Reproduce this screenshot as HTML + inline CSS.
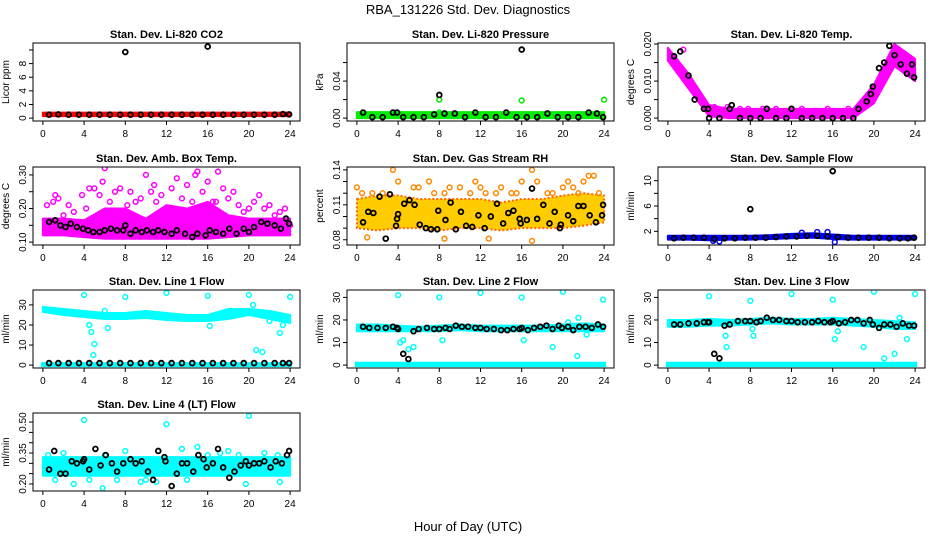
<!DOCTYPE html>
<html><head><meta charset="utf-8"><style>
body{margin:0;background:#fff;}
svg text{font-family:"Liberation Sans",sans-serif;}
</style></head><body>
<svg id="c" width="936" height="540" xmlns="http://www.w3.org/2000/svg">
<text x="468" y="14" text-anchor="middle" font-size="13">RBA_131226  Std. Dev. Diagnostics</text>
<text x="468" y="531" text-anchor="middle" font-size="13">Hour of Day (UTC)</text>
</svg>
<script>
const BH=[0,2,4,6,8,10,12,14,16,18,20,22,24];
const titles=["Stan. Dev. Li-820 CO2","Stan. Dev. Li-820 Pressure","Stan. Dev. Li-820 Temp.","Stan. Dev. Amb. Box Temp.","Stan. Dev. Gas Stream RH","Stan. Dev. Sample Flow","Stan. Dev. Line 1 Flow","Stan. Dev. Line 2 Flow","Stan. Dev. Line 3 Flow","Stan. Dev. Line 4 (LT) Flow"];
const ylabs=["Licor ppm","kPa","degrees C","degrees C","percent","ml/min","ml/min","ml/min","ml/min","ml/min"];
const yranges=[[0,10.6],[0,0.078],[0,0.0195],[0.10,0.315],[0.078,0.140],[0.3,11.7],[0,36],[0,32],[0,32],[0.18,0.53]];
const yticks=[[0,2,4,6,8,10],[0,0.02,0.04,0.06],[0,0.005,0.01,0.015,0.02],[0.1,0.15,0.2,0.25,0.3],[0.08,0.09,0.1,0.11,0.12,0.13,0.14],[2,4,6,8,10],[0,10,20,30],[0,10,20,30],[0,10,20,30],[0.2,0.25,0.3,0.35,0.4,0.45,0.5]];
const ytickLabels=[["0","2","4","6","8",""],["0.00","","0.04",""],["0.000","","0.010","","0.020"],["0.10","","0.20","","0.30"],["0.08","","","0.11","","","0.14"],["2","","6","","10"],["0","10","20","30"],["0","10","20","30"],["0","10","20","30"],["0.20","","","0.35","","","0.50"]];
const colors=["#ff0000","#00ee00","#ff00ff","#ff00ff","#ffb000","#0000ff","#00ffff","#00ffff","#00ffff","#00ffff"];
const xticks=[0,4,8,12,16,20,24];
const bandLo=[
[0.3,0.3,0.3,0.3,0.3,0.3,0.3,0.3,0.3,0.3,0.3,0.3,0.3],
[0,0,0,0,0,0,0,0,0,0,0,0,0],
[0.0155,0.008,0.0005,0,0,0,0,0,0,0,0.004,0.014,0.010],
[0.12,0.12,0.115,0.11,0.11,0.11,0.11,0.11,0.11,0.115,0.12,0.12,0.12],
[0.09,0.088,0.09,0.09,0.088,0.09,0.09,0.088,0.09,0.09,0.09,0.092,0.095],
[0.7,0.7,0.6,0.7,0.7,0.8,0.9,1.0,0.8,0.7,0.7,0.7,0.7],
[26.5,25,24,23,23,23.5,22.5,22,22,23,25,23,21],
[15,15,15,15,15,15.5,15,15,15,15,15,15,15],
[17,17,17.5,17.5,18,18.5,18,18,18,17.5,17,16,16],
[0.24,0.24,0.24,0.24,0.24,0.24,0.24,0.24,0.24,0.24,0.24,0.24,0.24]];
const bandHi=[
[0.8,0.8,0.8,0.8,0.8,0.8,0.8,0.8,0.8,0.8,0.8,0.8,0.8],
[0.0065,0.0065,0.0065,0.0065,0.0065,0.0065,0.0065,0.0065,0.0065,0.0065,0.0065,0.0065,0.0065],
[0.019,0.012,0.0035,0.0025,0.0025,0.0025,0.0025,0.0025,0.0025,0.0025,0.009,0.020,0.016],
[0.17,0.17,0.165,0.2,0.2,0.17,0.21,0.2,0.22,0.18,0.17,0.17,0.17],
[0.115,0.118,0.118,0.115,0.115,0.115,0.115,0.112,0.115,0.115,0.118,0.12,0.118],
[1.3,1.3,1.3,1.3,1.3,1.4,1.6,1.7,1.5,1.3,1.3,1.3,1.3],
[29,28,27,26,26,27,26,25,25,28,28,27,25],
[18,18,17.5,17,17.5,18,17.5,17.5,17.5,17.5,18,18.5,18],
[20,20,20.5,20,20.5,21,20.5,20.5,21,20.5,20,19.5,19],
[0.33,0.33,0.33,0.33,0.33,0.33,0.33,0.33,0.33,0.33,0.33,0.33,0.33]];
const lowBandHi=[null,null,null,null,null,null,1.5,1.5,1.5,null];
const cx=[[],[8,16,24,8],[0.3,1.5,4.5,5.8,7,7.8,9.2,10.5,12,13,15.5,17.5,18.5],
[0.4,1,1.5,2,2.5,3,3.8,4.2,5,5.5,5.8,6.5,7,7.5,8.2,8.5,9,9.5,10,10.5,11,11.5,12,12.5,13,13.5,14,14.5,15,15.5,16,16.5,17,17.5,18,18.5,19,19.5,20,20.5,21,21.5,22,22.5,23,23.5,24,4.5,6,10.8,14.8,16.8,1.2,7.7],
[0,0.5,1.5,2.5,3.5,4,5.5,6,7,7.5,8.5,9,10,11,11.5,12,12.5,13.5,14,15,15.5,16,17,17.5,18.5,19,20,20.5,21,21.5,22,22.5,23,23.5,1,8.5,12.8,17],
[4.4,5,13,14.5,15.5,16.2],
[4,4.5,4.7,4.9,5,6.3,8,12,16,20,20.4,20.7,21.3,23,23.3,24,6,16.2,22],
[4,4.2,4.5,5,5.5,8,8.3,12,16,16.2,19,20,20.5,21.4,21.5,23.9,22.3],
[4,5.6,5.7,8,8.2,8.3,12,16,16.2,16.5,19,20,21,22,22.5,23.2,24],
[4,12,20,5.8,0.5,1.2,3,4.5,6,7.2,8,9.5,11,13.5,15,16,17.2,18,19.7,21.5,22.8,2,10,14,19,23]];
const cy=[[],[0.020,0.019,0.020,0.006],[0.0165,0.0185,0.003,0.003,0.0025,0.0025,0.0025,0.0025,0.0025,0.0025,0.0025,0.0025,0.0028],
[0.21,0.22,0.23,0.18,0.21,0.19,0.24,0.2,0.26,0.24,0.28,0.22,0.25,0.26,0.21,0.25,0.22,0.23,0.3,0.25,0.22,0.24,0.2,0.26,0.29,0.23,0.27,0.22,0.31,0.25,0.28,0.22,0.31,0.26,0.23,0.25,0.21,0.19,0.2,0.22,0.24,0.2,0.21,0.18,0.19,0.2,0.15,0.26,0.32,0.27,0.3,0.22,0.24,0.18],
[0.125,0.12,0.12,0.12,0.14,0.13,0.125,0.125,0.13,0.12,0.12,0.125,0.125,0.12,0.13,0.125,0.12,0.12,0.125,0.12,0.12,0.13,0.14,0.13,0.12,0.12,0.125,0.13,0.125,0.12,0.13,0.135,0.135,0.12,0.082,0.081,0.081,0.079],
[0.5,0.4,1.8,1.9,1.9,0.3],
[35,20,16.5,5,10.5,18.5,34,36,34.5,35,30,7.5,6.5,16,20,34,27,19.5,22],
[31,10,11,7,8,30,11,32,30,11,8,32.5,19,4,21,29,13.5],
[30.5,13,8,28.5,16,13,31.5,29,11.5,15,8,32.5,3,5,21,11.5,31.5],
[0.51,0.49,0.53,0.18,0.34,0.22,0.2,0.22,0.34,0.22,0.36,0.21,0.21,0.37,0.38,0.34,0.35,0.36,0.2,0.35,0.34,0.35,0.22,0.22,0.34,0.21]];
const bx=[
[0.6,1.5,2.5,3.5,4.5,5.5,6.5,7.5,8,8.5,9.5,10.5,11.5,12.5,13.5,14.5,15.5,16,16.5,17.5,18.5,19.5,20.5,21.5,22.5,23.3,23.9],
[0.6,1.5,2.5,3.5,3.9,4.5,5.5,6.5,7.5,8,8.5,9.5,10.5,11.5,12.5,13.5,14.5,15.5,16,16.5,17.5,18.5,19.5,20.5,21.5,22.5,23.3,23.9],
[0.6,1.2,2,2.6,3.5,3.9,4,5,6,6.2,7,8,9,9.6,10.5,11.5,12,13,14,15,16,17,18,18.5,19.3,19.7,19.9,20.5,21,21.5,22,22.6,23.2,23.7,23.9],
[0.6,1.2,1.7,2.2,2.7,3.3,3.9,4.4,4.9,5.5,6,6.6,7.2,7.8,8.0,8.5,9.0,9.6,10.1,10.7,11.2,11.8,12.5,13,13.8,14.5,15,15.8,16.2,16.8,17.5,18.1,18.8,19.5,20,20.5,21.2,21.8,22.5,23.1,23.6,23.9],
[0.6,1.1,1.6,2.2,2.8,3.2,3.8,3.9,4,4.6,5.1,5.6,6.1,6.7,7.2,7.8,7.9,8.6,9.1,9.6,10.1,10.6,11.2,11.8,12.4,13,13.6,14.2,14.7,15.2,15.8,15.9,16.5,17,17.5,18.1,18.7,19.2,19.7,19.8,20.5,21,21.5,22,22.6,23.2,23.8,23.9],
[0.6,1.5,2.5,3.5,4.5,5.5,6.5,7.5,8,8.5,9.5,10.5,11.5,12.5,13.5,14.5,15.5,16,16.5,17.5,18.5,19.5,20.5,21.5,22.5,23.3,23.9],
[0.6,1.5,2.5,3.5,4.5,5.5,6.5,7.5,8.5,9.5,10.5,11.5,12.5,13.5,14.5,15.5,16.5,17.5,18.5,19.5,20.5,21.5,22.5,23.3,23.9],
[0.6,1.2,2,2.8,3.5,3.9,4,4.5,5,5.5,6,6.8,7.5,8,8.6,9,9.6,10.2,10.8,11.5,12,12.6,13.3,14,14.6,15.2,15.8,16.0,16.6,17.2,17.8,18.4,19,19.6,19.9,20.5,21,21.6,22.2,22.8,23.4,23.9],
[0.6,1.2,2,2.8,3.5,3.9,4,4.5,5,5.5,6,6.8,7.5,8,8.6,9,9.6,10.2,10.8,11.5,12,12.6,13.3,14,14.6,15.2,15.8,16.0,16.6,17.2,17.8,18.4,19,19.6,19.9,20.5,21,21.6,22.2,22.8,23.4,23.9],
[0.6,1.1,1.7,2.2,2.8,3.3,3.9,4.0,4.5,5.1,5.6,6.1,6.7,7.2,7.8,8.5,9,9.6,10.2,10.7,11.2,11.8,11.9,12.5,13,13.5,14,14.6,15.1,15.6,15.9,16.5,17,17.5,18.1,18.6,19.2,19.7,20,20.5,21,21.5,22.1,22.6,23.2,23.7,23.9]];
const by=[
[0.5,0.55,0.5,0.5,0.5,0.5,0.5,0.5,9.7,0.5,0.5,0.5,0.5,0.5,0.5,0.5,0.5,10.5,0.5,0.5,0.5,0.5,0.5,0.5,0.5,0.6,0.55],
[0.006,0.001,0.001,0.006,0.006,0.001,0.001,0.001,0.004,0.025,0.005,0.005,0.001,0.006,0.001,0.001,0.006,0.001,0.074,0.001,0.001,0.005,0.001,0.001,0.001,0.006,0.005,0.001],
[0.0167,0.018,0.0115,0.005,0.0025,0.0025,0,0,0.0025,0.0035,0,0,0,0.0025,0,0,0.0025,0,0,0,0,0,0,0.0025,0.0045,0.0065,0.0085,0.0135,0.015,0.0195,0.017,0.0145,0.012,0.0145,0.011],
[0.16,0.165,0.15,0.145,0.155,0.145,0.14,0.135,0.13,0.13,0.135,0.14,0.135,0.135,0.15,0.125,0.135,0.13,0.135,0.13,0.135,0.13,0.125,0.135,0.125,0.115,0.125,0.12,0.135,0.13,0.125,0.14,0.125,0.14,0.13,0.145,0.16,0.155,0.15,0.14,0.17,0.155],
[0.095,0.104,0.103,0.117,0.081,0.119,0.092,0.098,0.102,0.111,0.114,0.11,0.093,0.09,0.089,0.089,0.105,0.097,0.112,0.089,0.104,0.092,0.091,0.101,0.09,0.100,0.111,0.094,0.103,0.105,0.098,0.094,0.097,0.124,0.098,0.11,0.094,0.104,0.09,0.093,0.101,0.096,0.109,0.109,0.101,0.095,0.101,0.11],
[0.9,1,1,1,0.8,0.9,0.9,1,5.5,1,1,1.1,1.2,1.2,1.3,1.3,1.2,11.5,1.1,1,1,1,1,0.9,0.9,0.9,1],
[1,1,1,1,1,1,1,1,1,1,1,1,1,1,1,1,1,1,1,1,1,1,1,1,1],
[17,16.5,16.5,16.5,17,16.5,16,5,2.7,15,16,16.5,16,16,16.5,16,17.5,17,17,16.5,16.5,16,16,15.5,15.5,16,16,16.5,15.5,16.5,17,17.5,16,17.5,16.5,17,15.5,17,17,16.5,18,17],
[18,18,18.5,18.5,19,19,19,5,3,17.5,18,19.5,19.5,19.5,19,19.5,21,20,20,19.5,19.5,19,19,19,19.5,19,19,19.5,18.5,19,20,20,18.5,20,18,16.5,18,18,17,18.5,17.5,17.5],
[0.27,0.36,0.25,0.25,0.31,0.3,0.31,0.32,0.27,0.37,0.29,0.34,0.3,0.26,0.3,0.32,0.3,0.31,0.26,0.22,0.36,0.33,0.31,0.19,0.25,0.3,0.3,0.26,0.34,0.32,0.28,0.3,0.37,0.28,0.23,0.26,0.29,0.31,0.29,0.3,0.3,0.31,0.28,0.31,0.3,0.34,0.36]];

const NS="http://www.w3.org/2000/svg";
const svg=document.getElementById('c');
const lefts=[33,347,658], tops=[43,167,290,413], W=267, H=78;
function mk(tag,attrs,parent){const e=document.createElementNS(NS,tag);for(const k in attrs)e.setAttribute(k,attrs[k]);(parent||svg).appendChild(e);return e;}
function txt(s,attrs,parent){const e=mk('text',attrs,parent);e.textContent=s;return e;}

for(let p=0;p<10;p++){
  const L=lefts[p%3], T=tops[Math.floor(p/3)];
  const g=mk('g',{});
  
  
  const xs=h=>L+(h+0.96)/25.92*W;
  const [lo,hi]=yranges[p]; const r=hi-lo;
  const ys=v=>T+H-((v-(lo-0.04*r))/(1.08*r))*H;
  const clip=mk('clipPath',{id:'cl'+p},g); mk('rect',{x:L,y:T,width:W,height:H},clip);
  const plot=mk('g',{'clip-path':'url(#cl'+p+')'},g);
  
  
  const col=colors[p];
  let pts=[];
  BH.forEach((h,i)=>pts.push(xs(h)+','+ys(bandHi[p][i])));
  for(let i=BH.length-1;i>=0;i--)pts.push(xs(BH[i])+','+ys(bandLo[p][i]));
  const band=mk('polygon',{points:pts.join(' '),fill:col,stroke:col,'stroke-width':2,'stroke-linejoin':'round'},plot);
  
  
  if(p===4){band.setAttribute('fill','#ffcc00');band.setAttribute('stroke','#ff6600');band.setAttribute('stroke-dasharray','2 2');}
  if(lowBandHi[p]!==null){
    const lb=mk('rect',{x:xs(0)-2,y:ys(lowBandHi[p]),width:xs(24)-xs(0)+4,height:ys(0)-ys(lowBandHi[p])+2,fill:col},plot);
    
    
  }
  cx[p].forEach((h,i)=>{
    const c=mk('circle',{cx:xs(h),cy:ys(cy[p][i]),r:2.4,fill:'none',stroke:p===4?'#ff8800':col,'stroke-width':1.5},plot);
    
    
  });
  bx[p].forEach((h,i)=>{
    const c=mk('circle',{cx:xs(h),cy:ys(by[p][i]),r:2.4,fill:'none',stroke:'#000','stroke-width':1.8},plot);
    
    
  });
  const box=mk('rect',{x:L,y:T,width:W,height:H,fill:'none',stroke:'#000','stroke-width':1},g);
  
  
  mk('line',{x1:xs(0),x2:xs(24),y1:T+H,y2:T+H,stroke:'#000'},g);
  xticks.forEach(t=>{
    mk('line',{x1:xs(t),x2:xs(t),y1:T+H,y2:T+H+4,stroke:'#000'},g);
    const tl=txt(String(t),{x:xs(t),y:T+H+16,'text-anchor':'middle','font-size':10},g);
    
    
  });
  const yt=yticks[p];
  mk('line',{x1:L,x2:L,y1:ys(yt[0]),y2:ys(yt[yt.length-1]),stroke:'#000'},g);
  yt.forEach((t,i)=>{
    const y=ys(t);
    mk('line',{x1:L-4,x2:L,y1:y,y2:y,stroke:'#000'},g);
    const s=ytickLabels[p][i];
    if(s){
      const tl=txt(s,{x:L-7,y:y,'text-anchor':'middle','font-size':10,transform:'rotate(-90 '+(L-7)+' '+y+')'},g);
      
      
    }
  });
  const yl=txt(ylabs[p],{x:L-24,y:T+H/2,'text-anchor':'middle','font-size':10,transform:'rotate(-90 '+(L-24)+' '+(T+H/2)+')'},g);
  
  
  const tt=txt(titles[p],{x:L+W/2,y:T-5,'text-anchor':'middle','font-size':11,'font-weight':'bold'},g);
  
  
}
</script>
</body></html>
